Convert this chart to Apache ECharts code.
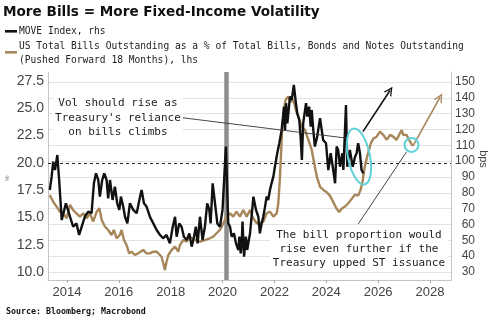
<!DOCTYPE html>
<html><head><meta charset="utf-8">
<script src="https://cdn.jsdelivr.net/npm/echarts@6/dist/echarts.min.js"></script>
<style>html,body{margin:0;padding:0;background:#fff}#c{width:500px;height:326px}</style>
</head><body><div id="c"></div>
<script>
const titleText = 'More Bills = More Fixed-Income Volatility';
const legendMove = 'MOVE Index, rhs';
const legendBills = 'US Total Bills Outstanding as a % of Total Bills, Bonds and Notes Outstanding\n(Pushed Forward 18 Months), lhs';
const sourceText = 'Source: Bloomberg; Macrobond';
const noteVol = "Vol should rise as\nTreasury's reliance\non bills climbs";
const noteBills = 'The bill proportion would\nrise even further if the\nTreasury upped ST issuance';
const rightUnit = 'bps';
const leftUnit = '%';

const xTicks = [2014, 2016, 2018, 2020, 2022, 2024, 2026, 2028];
const leftTicks = [10, 12.5, 15, 17.5, 20, 22.5, 25, 27.5];
const rightTicks = [30, 40, 50, 60, 70, 80, 90, 100, 110, 120, 130, 140, 150];

const moveDates = [2013.34,2013.41,2013.47,2013.54,2013.63,2013.70,2013.80,2013.96,2014.12,2014.24,2014.37,2014.47,2014.57,2014.69,2014.82,2014.95,
2015.04,2015.12,2015.21,2015.27,2015.36,2015.44,2015.53,2015.59,2015.66,2015.76,2015.85,2015.94,2016.02,2016.08,2016.17,2016.24,2016.33,2016.43,2016.56,2016.69,2016.82,2016.88,2016.97,
2017.07,2017.20,2017.33,2017.46,2017.59,2017.71,2017.84,2017.97,2018.08,2018.17,2018.23,2018.33,2018.42,2018.51,2018.62,2018.72,2018.81,2018.90,2018.97,
2019.04,2019.13,2019.23,2019.32,2019.41,2019.49,2019.54,2019.62,2019.71,2019.80,2019.90,2020.00,2020.13,2020.22,2020.29,2020.35,2020.44,2020.52,2020.61,2020.65,2020.70,2020.74,2020.77,2020.83,2020.90,2020.95,
2021.06,2021.12,2021.19,2021.29,2021.38,2021.44,2021.51,2021.57,2021.64,2021.70,2021.76,2021.83,2021.89,2021.96,2022.02,2022.11,2022.19,2022.28,2022.32,2022.37,2022.41,2022.45,2022.50,2022.60,2022.67,2022.75,2022.83,2022.88,2022.96,
2023.01,2023.06,2023.11,2023.22,2023.27,2023.34,2023.40,2023.44,2023.50,2023.56,2023.65,2023.76,2023.88,2023.99,2024.08,2024.17,2024.25,2024.34,2024.40,2024.46,2024.53,2024.62,2024.66,2024.76,2024.81,2024.91,
2025.02,2025.11,2025.17,2025.23,2025.30,2025.36,2025.43];
const moveValues = [81.8,90.2,99.7,94.4,103.9,88.1,62.8,73.4,64.9,58.6,60.7,53.4,58.6,64.9,68.1,67.1,
86.0,92.3,88.1,77.6,88.1,92.3,88.1,76.5,88.1,75.5,83.9,73.4,69.2,77.6,71.3,64.9,60.7,73.4,69.2,67.1,77.6,81.8,73.4,
71.3,64.9,60.7,56.5,53.4,51.3,53.4,48.1,58.6,64.9,52.3,60.7,58.6,52.3,50.2,54.4,46.0,52.3,58.6,
48.1,64.9,50.2,58.6,73.4,69.2,60.7,86.0,73.4,60.7,58.6,69.2,109.2,60.7,58.6,52.3,54.4,48.1,43.9,52.3,41.8,48.1,61.8,39.7,52.3,43.9,
54.4,64.9,77.6,69.2,64.9,54.4,60.7,64.9,71.3,77.6,75.5,81.8,86.0,90.2,96.5,105.0,111.3,119.7,126.0,134.4,119.7,136.6,123.9,140.8,138.7,148.1,136.6,130.3,126.0,
115.5,100.7,123.9,136.6,128.1,134.4,121.8,132.3,119.7,109.2,115.5,127.1,113.4,111.3,94.4,105.0,96.5,86.0,109.2,107.1,96.5,105.0,94.4,135.5,96.5,107.1,
96.5,102.8,105.0,111.3,105.0,94.4,92.3];

const billDates = [2013.34,2013.47,2013.60,2013.73,2013.86,2013.99,2014.12,2014.24,2014.37,2014.50,2014.63,2014.76,2014.89,2015.01,2015.15,2015.25,2015.34,2015.47,2015.59,2015.72,2015.81,2015.92,
2016.04,2016.11,2016.20,2016.30,2016.40,2016.49,2016.62,2016.75,2016.94,2017.07,2017.20,2017.33,2017.46,2017.65,2017.78,2017.84,2017.91,2018.04,2018.17,2018.29,2018.36,2018.49,2018.62,2018.74,2018.94,
2019.13,2019.32,2019.51,2019.64,2019.77,2019.90,2020.03,2020.16,2020.29,2020.41,2020.54,2020.67,2020.80,2020.93,2021.06,2021.18,2021.32,2021.44,2021.57,2021.70,2021.83,2021.96,
2022.09,2022.15,2022.21,2022.25,2022.30,2022.37,2022.43,2022.53,2022.63,2022.73,2022.83,2022.92,2023.05,2023.18,2023.31,2023.44,2023.56,2023.64,2023.76,2023.90,
2024.02,2024.14,2024.27,2024.40,2024.50,2024.59,2024.72,2024.85,2024.98,2025.11,2025.23,2025.32,2025.40,2025.48,2025.60,2025.72,2025.81,2025.94,
2026.07,2026.20,2026.33,2026.46,2026.58,2026.71,2026.84,2026.91,2026.97,2027.10,2027.23,2027.33];
const billValues = [17.06,16.44,15.99,15.53,15.38,14.92,16.14,15.68,15.38,15.07,15.38,14.92,15.38,14.61,15.53,15.84,14.77,14.15,13.85,13.39,13.85,13.09,
13.39,13.85,12.93,12.47,11.71,11.86,11.56,11.71,12.02,11.71,11.71,11.86,11.86,11.40,10.18,10.94,11.56,12.02,12.32,11.86,12.47,12.93,12.78,13.24,12.93,
12.78,12.93,13.09,13.24,13.55,13.85,14.46,15.07,15.38,15.07,15.53,15.07,15.68,15.07,15.68,14.92,14.46,14.46,14.61,15.38,15.53,15.07,
15.38,16.30,18.43,20.57,23.02,24.85,25.77,26.07,25.61,25.77,24.85,24.24,23.32,23.02,22.10,21.18,19.65,18.70,17.80,17.50,
17.30,17.00,16.40,15.80,15.50,15.80,16.00,16.30,16.70,17.10,17.00,17.50,18.30,19.60,20.80,21.80,22.20,22.40,
22.86,22.56,22.10,22.56,22.40,22.10,22.71,23.00,22.56,22.56,21.94,21.55];

// annotation anchors (data coordinates: year, lhs value)
const covidMark = 2020.15;
const dashedLevel = 20;
const arrowMove = [[2025.415, 22.86], [2026.457, 26.63]];
const arrowBills = [[2027.344, 21.55], [2028.385, 25.99]];
const leaderVol = [[2018.435, 24.14], [2024.837, 22.25]];
const leaderBills = [[2025.234, 14.40], [2027.10, 21.02]];
const ellipseBig = {c: [2025.261, 20.58], rx: 0.424, ry: 2.61};
const circleSmall = {c: [2027.286, 21.64], r: 0.27};
const noteVolPos = [2015.967, 24.11];
const noteBillsPos = [2025.261, 12.06];

const TAN = '#a7865a';
const CYAN = '#5fd0d8';
const arrowPath = 'path://M0,10 L5,0 L10,10 L8.4,10 L5,3.2 L1.6,10 Z';

const moveData = moveDates.map((d, i) => [d, moveValues[i]]);
const billData = billDates.map((d, i) => [d, billValues[i]]);

const chart = echarts.init(document.getElementById('c'), null, {renderer: 'canvas'});
const axisFont = 'Liberation Sans';
chart.setOption({
  animation: false,
  backgroundColor: '#fff',
  grid: {left: 48, right: 49, top: 72, bottom: 46},
  xAxis: {
    type: 'value', min: 2013.27, max: 2028.81,
    axisLine: {show: true, lineStyle: {color: '#c4c4c4'}},
    axisTick: {show: true, customValues: xTicks, length: 3, lineStyle: {color: '#aaa'}},
    axisLabel: {customValues: xTicks, formatter: v => String(v), fontSize: 13, color: '#444', fontFamily: axisFont, margin: 6},
    splitLine: {show: false}
  },
  yAxis: [{
    type: 'value', min: 9.267, max: 28.325, position: 'left',
    axisLine: {show: true, lineStyle: {color: '#c4c4c4'}},
    axisTick: {show: false, customValues: leftTicks},
    axisLabel: {customValues: leftTicks, formatter: v => v.toFixed(1), fontSize: 14, color: '#444', fontFamily: axisFont, margin: 4},
    splitLine: {show: false}
  }, {
    type: 'value', min: 24.95, max: 156.3, position: 'right',
    axisLine: {show: true, lineStyle: {color: '#c4c4c4'}},
    axisTick: {show: false, customValues: rightTicks},
    axisLabel: {customValues: rightTicks, formatter: v => String(v), align: 'right', fontSize: 12, color: '#444', fontFamily: axisFont, margin: 24},
    splitLine: {show: true, lineStyle: {color: '#e2e2e2', width: 1}}
  }],
  series: [{
    type: 'line', yAxisIndex: 0, data: [], z: 1, silent: true,
    markLine: {
      silent: true, z: 1, symbol: 'none', label: {show: false}, animation: false,
      data: [
        {xAxis: covidMark, lineStyle: {color: '#8e8e8e', width: 4.5, type: 'solid'}},
        {yAxis: dashedLevel, lineStyle: {color: '#222', width: 1, type: [3, 3]}}
      ]
    }
  }, {
    name: 'Bills', type: 'line', yAxisIndex: 0, data: billData, showSymbol: false, symbol: 'none',
    lineStyle: {color: TAN, width: 2.4}, itemStyle: {color: TAN}, z: 3
  }, {
    name: 'MOVE', type: 'line', yAxisIndex: 1, data: moveData, showSymbol: false, symbol: 'none',
    lineStyle: {color: '#111', width: 2.4}, itemStyle: {color: '#111'}, z: 4
  }, {
    type: 'line', yAxisIndex: 0, data: [], z: 6, silent: true,
    markLine: {
      silent: true, z: 6, label: {show: false}, animation: false, symbol: 'none',
      data: [
        [{coord: arrowMove[0], symbol: 'none'}, {coord: arrowMove[1], symbol: arrowPath, symbolSize: [9, 9], lineStyle: {color: '#111', width: 1.6, type: 'solid'}}],
        [{coord: arrowBills[0], symbol: 'none'}, {coord: arrowBills[1], symbol: arrowPath, symbolSize: [9, 9], lineStyle: {color: TAN, width: 1.6, type: 'solid'}}],
        [{coord: leaderVol[0], symbol: 'none'}, {coord: leaderVol[1], symbol: 'none', lineStyle: {color: '#333', width: 0.9, type: 'solid'}}],
        [{coord: leaderBills[0], symbol: 'none'}, {coord: leaderBills[1], symbol: 'none', lineStyle: {color: '#333', width: 0.9, type: 'solid'}}]
      ]
    }
  }]
});

function px(p) { return chart.convertToPixel({xAxisIndex: 0, yAxisIndex: 0}, p); }
const eC = px(ellipseBig.c);
const eX = px([ellipseBig.c[0] + ellipseBig.rx, ellipseBig.c[1]]);
const eY = px([ellipseBig.c[0], ellipseBig.c[1] + ellipseBig.ry]);
const cC = px(circleSmall.c);
const cR = px([circleSmall.c[0] + circleSmall.r, circleSmall.c[1]]);
const nV = px(noteVolPos);
const nB = px(noteBillsPos);

chart.setOption({
  graphic: [
    {type: 'text', left: 3, top: 5, style: {text: titleText, font: 'bold 13.6px "DejaVu Sans"', fill: '#111'}},
    {type: 'rect', shape: {x: 5, y: 30, width: 12, height: 2.6}, style: {fill: '#111'}},
    {type: 'text', x: 19, y: 31.5, style: {text: legendMove, font: '9.6px "DejaVu Sans Mono"', fill: '#222', verticalAlign: 'middle'}},
    {type: 'rect', shape: {x: 5, y: 51, width: 12, height: 2.6}, style: {fill: TAN}},
    {type: 'text', x: 19, y: 53.5, style: {text: legendBills, font: '9.6px "DejaVu Sans Mono"', fill: '#222', verticalAlign: 'middle', lineHeight: 13.5}},
    {type: 'text', x: 6, y: 312, style: {text: sourceText, font: 'bold 8.3px "DejaVu Sans Mono"', fill: '#111', verticalAlign: 'middle'}},
    {type: 'text', x: 483, y: 159, rotation: -Math.PI / 2, style: {text: rightUnit, font: '11px "Liberation Sans"', fill: '#444', align: 'center', verticalAlign: 'middle'}},
    {type: 'text', x: 7, y: 178, rotation: Math.PI / 2, style: {text: leftUnit, font: '6px "Liberation Sans"', fill: '#666', align: 'center', verticalAlign: 'middle'}},
    {type: 'text', x: nV[0], y: nV[1], z: 10, style: {text: noteVol, font: '11px "DejaVu Sans Mono"', fill: '#222', align: 'center', verticalAlign: 'middle', lineHeight: 14.5, backgroundColor: '#fff', padding: [1, 2]}},
    {type: 'text', x: nB[0], y: nB[1], z: 10, style: {text: noteBills, font: '11px "DejaVu Sans Mono"', fill: '#222', align: 'center', verticalAlign: 'middle', lineHeight: 14, backgroundColor: '#fff', padding: [1, 3]}},
    {type: 'ellipse', z: 11, x: eC[0], y: eC[1], rotation: 0.2, shape: {cx: 0, cy: 0, rx: Math.abs(eX[0] - eC[0]), ry: Math.abs(eY[1] - eC[1])}, style: {fill: 'none', stroke: CYAN, lineWidth: 2}},
    {type: 'circle', z: 11, shape: {cx: cC[0], cy: cC[1], r: Math.abs(cR[0] - cC[0])}, style: {fill: 'none', stroke: CYAN, lineWidth: 2}}
  ]
});
</script>
</body></html>
